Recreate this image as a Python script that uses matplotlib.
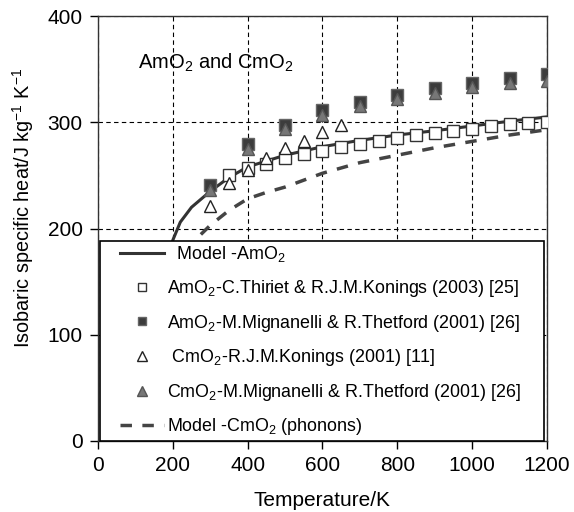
import matplotlib
matplotlib.use("Agg")
import matplotlib.pyplot as plt
from matplotlib.legend_handler import HandlerLine2D

plt.rcParams['font.family'] = ['Liberation Sans', 'DejaVu Sans']
plt.rcParams['mathtext.fontset'] = 'custom'
plt.rcParams['mathtext.rm'] = 'Liberation Sans'
plt.rcParams['mathtext.default'] = 'regular'

# model curves
t_model_am = [195, 200, 220, 250, 300, 350, 400, 500, 600, 700, 800, 900, 1000, 1100, 1200]
cp_model_am = [175, 189, 206, 220, 235, 248, 258, 269, 277, 283, 288, 292, 296.5, 301, 305]
t_model_cm = [240, 265, 300, 350, 400, 450, 500, 600, 700, 800, 900, 1000, 1100, 1200]
cp_model_cm = [178, 191, 203, 217, 228, 234, 239, 252, 262, 269, 276, 282, 288, 293]

# AmO2 - Thiriet & Konings (2003)
t_am_thiriet = [350, 400, 450, 500, 550, 600, 650, 700, 750, 800, 850, 900, 950, 1000, 1050, 1100, 1150, 1200]
cp_am_thiriet = [250, 256.6, 261, 266, 270, 273, 277, 280, 282.6, 285, 288, 290, 292, 294, 296.5, 298, 299.6, 300.5]

# AmO2 - Mignanelli & Thetford (2001)
t_am_mign = [300, 400, 500, 600, 700, 800, 900, 1000, 1100, 1200]
cp_am_mign = [241, 279.5, 297, 311.5, 319, 325.6, 332, 337, 341.6, 345]

# CmO2 - Konings (2001)
t_cm_kon = [300, 350, 400, 450, 500, 550, 600, 650]
cp_cm_kon = [221, 243, 255, 266, 275.5, 282, 290.5, 297.5]

# CmO2 - Mignanelli & Thetford (2001)
t_cm_mign = [300, 400, 500, 600, 700, 800, 900, 1000, 1100, 1200]
cp_cm_mign = [236, 275, 293.6, 307, 315, 322, 328, 333, 337, 339]

fig = plt.figure(figsize=(5.74, 5.12), dpi=100)
ax = fig.add_axes([0.1707, 0.1387, 0.7822, 0.8300])

ax.plot(t_model_am, cp_model_am, color='#333333', lw=2.2, label='  Model -AmO$_2$', zorder=3)
ax.plot(t_am_thiriet, cp_am_thiriet, ls='none', marker='s', ms=8.5, mfc='white',
        mec='#333333', mew=1.0, label='AmO$_2$-C.Thiriet & R.J.M.Konings (2003) [25]', zorder=4)
ax.plot(t_am_mign, cp_am_mign, ls='none', marker='s', ms=8.5, mfc='#3c3c3c',
        mec='#666666', mew=1.0, label='AmO$_2$-M.Mignanelli & R.Thetford (2001) [26]', zorder=4)
ax.plot(t_cm_kon, cp_cm_kon, ls='none', marker='^', ms=9, mfc='white',
        mec='#222222', mew=1.0, label=' CmO$_2$-R.J.M.Konings (2001) [11]', zorder=4)
ax.plot(t_cm_mign, cp_cm_mign, ls='none', marker='^', ms=9, mfc='#777777',
        mec='#555555', mew=1.0, label='CmO$_2$-M.Mignanelli & R.Thetford (2001) [26]', zorder=5)
ax.plot(t_model_cm, cp_model_cm, color='#444444', lw=2.5, ls=(0, (3.3, 3.0)),
        label='Model -CmO$_2$ (phonons)', zorder=3)

ax.set_xlim(0, 1200)
ax.set_ylim(0, 400)
ax.set_xticks(range(0, 1201, 200))
ax.set_yticks(range(0, 401, 100))
ax.grid(True, color='black', ls=(0, (4, 3)), lw=0.8)
ax.tick_params(labelsize=15, direction='out', length=6, width=1, pad=5)
for s in ax.spines.values():
    s.set_linewidth(1.0)
    s.set_color('#333333')

ax.set_xlabel('Temperature/K', fontsize=15, labelpad=11)
ax.set_ylabel('Isobaric specific heat/J kg$^{-1}$ K$^{-1}$', fontsize=14.3)
ax.yaxis.set_label_coords(-0.138, 0.548)
ax.text(108, 356, 'AmO$_2$ and CmO$_2$', fontsize=14.5, va='center', ha='left')

leg = ax.legend(loc='lower left', bbox_to_anchor=(0.004, 0.0, 0.99, 0.475), mode='expand',
                borderaxespad=0, fancybox=False, framealpha=1, edgecolor='black',
                fontsize=12.9, handlelength=3.4, handletextpad=0.15, labelspacing=0.76,
                borderpad=0.2, markerscale=0.75,
                handler_map={matplotlib.lines.Line2D: HandlerLine2D(xpad=0.95)})
leg.get_frame().set_linewidth(1.2)
leg.set_zorder(10)

fig.savefig('out.png', dpi=100)
